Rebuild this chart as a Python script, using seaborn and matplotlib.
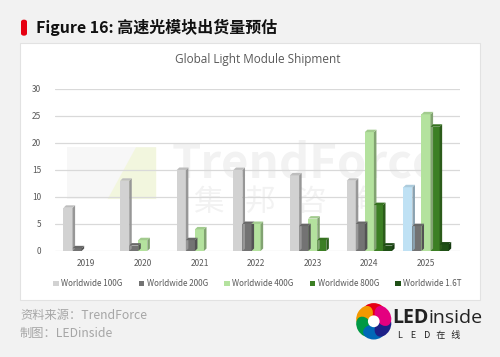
import numpy as np
import pandas as pd
import seaborn as sns
import matplotlib
matplotlib.use("Agg")
from matplotlib import pyplot as plt
from matplotlib.patches import FancyBboxPatch, Rectangle, Polygon, Ellipse
from matplotlib.colors import to_rgb

"""
Chart data (read off the reference)
"""
years = ["2019", "2020", "2021", "2022", "2023", "2024", "2025"]
series = ["Worldwide 100G", "Worldwide 200G", "Worldwide 400G",
          "Worldwide 800G", "Worldwide 1.6T"]
v100g = [8, 13, 15, 15, 14, 13, 11.8]
v200g = [0.5, 1, 2, 5, 4.6, 5, 4.6]
v400g = [np.nan, 2, 4, 5, 6, 22, 25.3]
v800g = [np.nan, np.nan, np.nan, np.nan, 2, 8.5, 23]
v16t = [np.nan, np.nan, np.nan, np.nan, np.nan, 1, 1.2]
yticks = [0, 5, 10, 15, 20, 25, 30]

colors = ["#d2d2d2", "#737373", "#b4e29e", "#3c7f24", "#1f5016"]
color_100g_2025 = "#bfe1f4"

rows = []
for name, vals in zip(series, [v100g, v200g, v400g, v800g, v16t]):
    for yr, v in zip(years, vals):
        rows.append({"year": yr, "series": name, "value": v})
df = pd.DataFrame(rows)

sns.set_style("white")
plt.rcParams['font.family'] = ['Noto Sans CJK SC', 'DejaVu Sans']

fig = plt.figure(figsize=(5.0, 3.57), dpi=100)
fig.patch.set_facecolor("#f2f2f2")

# white chart panel
fig.patches.append(Rectangle((0.04, 0.16), 0.92, 0.72, transform=fig.transFigure,
                             facecolor="white", edgecolor="#e2e2e2", lw=0.8, zorder=-5))
# red marker next to heading
fig.patches.append(FancyBboxPatch((0.042, 0.90), 0.012, 0.045, transform=fig.transFigure,
                                  boxstyle="round,pad=0,rounding_size=0.006",
                                  facecolor="#e60012", edgecolor="none", zorder=-4))
fig.text(0.072, 0.922, "Figure 16: 高速光模块出货量预估", fontsize=11.5,
         fontweight="bold", color="#111111", va="center", ha="left")

ax = fig.add_axes([0.11, 0.297, 0.81, 0.454])
ax.set_facecolor("none")

sns.barplot(data=df, x="year", y="value", hue="series", hue_order=series,
            palette=colors, ax=ax, width=0.8, gap=0.0, legend=True,
            saturation=1, linewidth=0, zorder=3)

# colour of the 2025 100G bar and a small 3D side / top on every bar
for k, cont in enumerate(ax.containers):
    for j, p in enumerate(cont):
        x0, w, h = p.get_x(), p.get_width(), p.get_height()
        if not h > 0:
            continue
        if k == 0 and j == len(years) - 1:
            p.set_facecolor(color_100g_2025)
        fc = np.array(to_rgb(p.get_facecolor()))
        dx, dy = w * 0.28, 0.45
        ax.add_patch(Polygon([[x0 + w, 0], [x0 + w + dx, dy], [x0 + w + dx, h + dy], [x0 + w, h]],
                             closed=True, facecolor=fc * 0.72, edgecolor="none", lw=0, zorder=3))
        ax.add_patch(Polygon([[x0, h], [x0 + dx, h + dy], [x0 + w + dx, h + dy], [x0 + w, h]],
                             closed=True, facecolor=fc * 0.9, edgecolor="none", lw=0, zorder=3))

# faint watermark
ax.text(0.62, 0.54, "TrendForce", transform=ax.transAxes, fontsize=34,
        fontweight="bold", color="#000000", alpha=0.05, ha="center", va="center", zorder=0)
ax.text(0.57, 0.30, "集   邦   咨   询", transform=ax.transAxes, fontsize=22,
        color="#000000", alpha=0.05, ha="center", va="center", zorder=0)
ax.add_patch(Rectangle((0.03, 0.32), 0.22, 0.32, transform=ax.transAxes,
                       facecolor="#000000", alpha=0.03, edgecolor="none", zorder=0))
ax.add_patch(Polygon([[0.13, 0.32], [0.20, 0.64], [0.25, 0.64], [0.25, 0.32]],
                     closed=True, transform=ax.transAxes, facecolor="#eef5c0",
                     alpha=0.45, edgecolor="none", zorder=0))

ax.set_ylim(0, 30)
ax.set_xlim(-0.55, 6.6)
ax.set_yticks(yticks)
ax.yaxis.grid(True, color="#d9d9d9", lw=0.9, zorder=0)
for s in ax.spines.values():
    s.set_visible(False)
ax.tick_params(axis="y", labelsize=6, colors="#595959", length=0, pad=10)
ax.tick_params(axis="x", labelsize=6, colors="#595959", length=0, pad=6)
ax.set_xlabel("")
ax.set_ylabel("")
ax.set_title("Global Light Module Shipment", fontsize=8.5, color="#595959", pad=19,
             family=["Open Sans", "DejaVu Sans"])

leg = ax.legend(loc="upper center", bbox_to_anchor=(0.5, -0.13), ncol=5, frameon=False,
                fontsize=5.8, handlelength=0.7, handleheight=0.7, handletextpad=0.3,
                columnspacing=2.0)
for t in leg.get_texts():
    t.set_color("#595959")

# footer
fig.text(0.04, 0.115, "资料来源：TrendForce", fontsize=8.8, color="#a6a6a6", va="center")
fig.text(0.04, 0.067, "制图：LEDinside", fontsize=8.8, color="#a6a6a6", va="center")

# LEDinside logo
logo = fig.add_axes([0.705, 0.04, 0.085, 0.12])
logo.set_xlim(-1, 1)
logo.set_ylim(-1, 1)
logo.axis("off")
petals = ["#e60012", "#f39800", "#009944", "#0068b7", "#1d2088", "#e4007f"]
for i, c in enumerate(petals):
    a = np.deg2rad(i * 60 + 90)
    logo.add_patch(Ellipse((0.5 * np.cos(a), 0.5 * np.sin(a)), 1.0, 0.7,
                           angle=i * 60 + 90 + 90, facecolor=c, edgecolor="none"))
logo.add_patch(Ellipse((0, 0), 0.55, 0.55, facecolor="white", edgecolor="none"))
fig.text(0.785, 0.11, "LED", fontsize=14, fontweight="bold", color="#222222", va="center",
         family=["Open Sans", "DejaVu Sans"])
fig.text(0.856, 0.11, "inside", fontsize=14, color="#222222", va="center",
         family=["Open Sans", "DejaVu Sans"])
fig.text(0.795, 0.06, "L    E    D   在   线", fontsize=6.5, color="#222222", va="center")

fig.savefig("out.png", dpi=100, facecolor=fig.get_facecolor())
